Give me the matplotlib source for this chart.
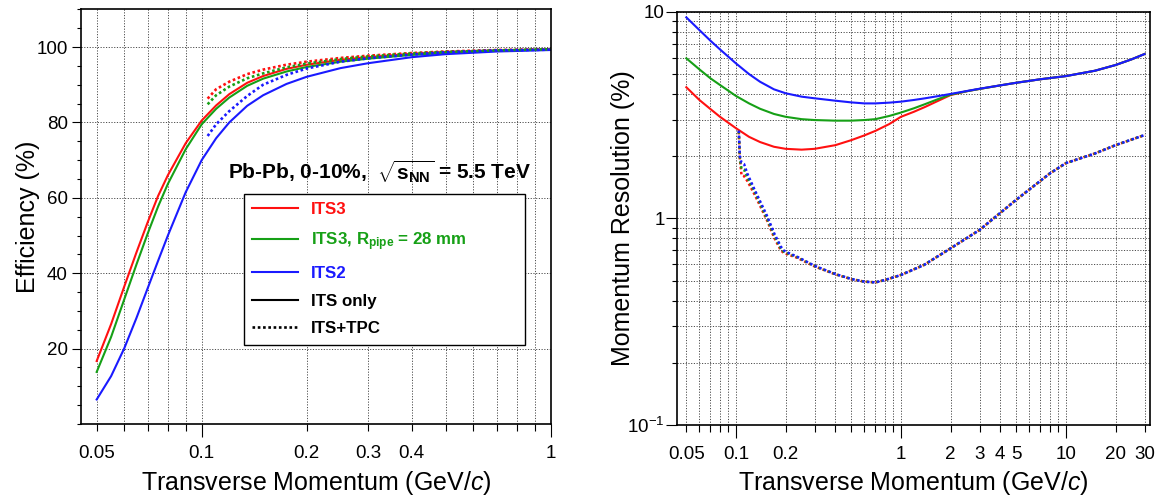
import numpy as np
import matplotlib
matplotlib.use('Agg')
import matplotlib.pyplot as plt
from matplotlib.ticker import MultipleLocator, LogLocator, FixedLocator, FuncFormatter, NullFormatter
from matplotlib.lines import Line2D

plt.rcParams['font.family'] = ['Liberation Sans', 'DejaVu Sans']
plt.rcParams['mathtext.fontset'] = 'custom'
plt.rcParams['mathtext.rm'] = 'Liberation Sans'
plt.rcParams['mathtext.it'] = 'Liberation Sans:italic'
plt.rcParams['mathtext.bf'] = 'Liberation Sans:bold'

# ---------------- data: efficiency (left panel) ----------------
eff_pt = [0.05, 0.055, 0.06, 0.065, 0.07, 0.075, 0.08, 0.09, 0.1, 0.11, 0.12, 0.135,
          0.15, 0.175, 0.2, 0.25, 0.3, 0.4, 0.5, 0.7, 1.0]
eff_its3 = [16.7, 26.5, 36.5, 45.5, 53.5, 60.5, 66.0, 74.5, 80.5, 84.5, 87.5, 90.5,
            92.3, 94.2, 95.3, 96.6, 97.3, 98.2, 98.7, 99.1, 99.4]
eff_its3_rp = [13.8, 23.1, 33.1, 42.3, 50.5, 57.7, 63.7, 72.9, 79.5, 83.6, 86.6, 89.7,
               91.6, 93.5, 94.7, 96.1, 96.9, 97.9, 98.4, 99.0, 99.4]
eff_its2 = [6.5, 12.7, 20.1, 28.1, 36.0, 43.3, 50.0, 61.5, 70.0, 75.8, 80.0, 84.4,
            87.2, 90.2, 92.1, 94.4, 95.7, 97.3, 98.1, 98.8, 99.2]

eff_pt_tpc = [0.104, 0.11, 0.12, 0.135, 0.15, 0.175, 0.2, 0.25, 0.3, 0.4, 0.5, 0.7, 1.0]
eff_its3_tpc = [86.3, 88.8, 90.8, 92.8, 94.0, 95.3, 96.1, 97.1, 97.7, 98.4, 98.8, 99.2, 99.4]
eff_its3_rp_tpc = [84.8, 87.2, 89.5, 91.7, 93.0, 94.6, 95.6, 96.8, 97.5, 98.3, 98.7, 99.1, 99.4]
eff_its2_tpc = [76.4, 79.5, 83.0, 87.0, 90.0, 92.6, 94.3, 96.1, 97.0, 98.0, 98.6, 99.1, 99.3]

# ---------------- data: momentum resolution (right panel) ----------------
res_pt = [0.05, 0.06, 0.07, 0.08, 0.1, 0.12, 0.14, 0.17, 0.2, 0.25, 0.3, 0.4, 0.5, 0.6,
          0.7, 0.85, 1.0, 1.2, 1.4, 1.7, 2.0, 2.5, 3, 4, 5, 7, 10, 15, 20, 25, 30]
res_its2 = [9.39, 8.15, 7.24, 6.57, 5.62, 4.99, 4.58, 4.21, 4.03, 3.88, 3.81, 3.71, 3.64, 3.60,
            3.60, 3.63, 3.67, 3.74, 3.81, 3.91, 4.00, 4.13, 4.24, 4.40, 4.53, 4.71, 4.88,
            5.18, 5.52, 5.88, 6.24]
res_its3_rp = [5.95, 5.26, 4.76, 4.42, 3.91, 3.60, 3.39, 3.20, 3.10, 3.02, 2.99, 2.97, 2.97, 2.99,
               3.02, 3.13, 3.25, 3.41, 3.57, 3.79, 3.97, 4.12, 4.23, 4.40, 4.53, 4.71, 4.88,
               5.18, 5.52, 5.88, 6.24]
res_its3 = [4.31, 3.74, 3.38, 3.10, 2.73, 2.48, 2.34, 2.22, 2.17, 2.15, 2.17, 2.26, 2.39, 2.52,
            2.65, 2.86, 3.10, 3.28, 3.46, 3.72, 3.95, 4.12, 4.23, 4.40, 4.53, 4.71, 4.88,
            5.18, 5.52, 5.88, 6.24]

res_pt_tpc = [0.104, 0.1055, 0.108, 0.112, 0.117, 0.13, 0.14, 0.155, 0.17, 0.187, 0.195, 0.2,
              0.234, 0.3, 0.4, 0.5, 0.6, 0.7, 0.8, 1.0, 1.38, 2, 3, 5, 8, 10, 15, 20, 30]
res_its2_tpc = [2.66, 2.00, 1.86, 1.83, 1.65, 1.37, 1.21, 1.02, 0.85, 0.73, 0.70, 0.69,
                0.653, 0.589, 0.538, 0.509, 0.494, 0.49, 0.503, 0.532, 0.595, 0.716, 0.879,
                1.23, 1.65, 1.85, 2.06, 2.26, 2.53]
res_its3_rp_tpc = [2.64, 1.97, 1.74, 1.72, 1.58, 1.34, 1.18, 0.99, 0.83, 0.715, 0.69, 0.683,
                   0.65, 0.587, 0.537, 0.509, 0.494, 0.49, 0.503, 0.532, 0.595, 0.716, 0.879,
                   1.23, 1.65, 1.85, 2.06, 2.26, 2.53]
res_its3_tpc = [2.62, 1.95, 1.62, 1.60, 1.52, 1.30, 1.15, 0.97, 0.81, 0.70, 0.68, 0.675,
                0.645, 0.585, 0.536, 0.508, 0.494, 0.49, 0.503, 0.532, 0.595, 0.716, 0.879,
                1.23, 1.65, 1.85, 2.06, 2.26, 2.53]

left_x_labels = {0.05: '0.05', 0.1: '0.1', 0.2: '0.2', 0.3: '0.3', 0.4: '0.4', 1.0: '1'}
left_y_ticks = [20, 40, 60, 80, 100]
right_x_labels = {0.05: '0.05', 0.1: '0.1', 0.2: '0.2', 1.0: '1', 2.0: '2', 3.0: '3',
                  4.0: '4', 5.0: '5', 10.0: '10', 20.0: '20', 30.0: '30'}
right_y_labels = {0.1: r'$10^{-1}$', 1.0: '1', 10.0: '10'}

legend_labels = ['ITS3', r'ITS3, R$_{\mathbf{pipe}}$ = 28 mm', 'ITS2', 'ITS only', 'ITS+TPC']

RED = '#ff1010'
GREEN = '#16a016'
BLUE = '#1a1aff'
DOT = (0, (1.0, 1.0))

fig = plt.figure(figsize=(11.63, 5.0), dpi=100)
ax1 = fig.add_axes([0.0694, 0.152, 0.4044, 0.8294])
ax2 = fig.add_axes([0.5824, 0.15, 0.4065, 0.8266])


def label_formatter(table):
    def f(v, pos):
        for k, s in table.items():
            if np.isclose(v, k, rtol=1e-6):
                return s
        return ''
    return FuncFormatter(f)


grid_kw = dict(color='0.3', linewidth=0.7, linestyle=(0, (1.2, 1.6)))

# ---------------- left panel ----------------
ax1.set_xscale('log')
ax1.plot(eff_pt, eff_its3, color=RED, lw=1.5)
ax1.plot(eff_pt, eff_its3_rp, color=GREEN, lw=1.5)
ax1.plot(eff_pt, eff_its2, color=BLUE, lw=1.5)
ax1.plot(eff_pt_tpc, eff_its3_tpc, color=RED, lw=1.9, ls=DOT)
ax1.plot(eff_pt_tpc, eff_its3_rp_tpc, color=GREEN, lw=1.9, ls=DOT)
ax1.plot(eff_pt_tpc, eff_its2_tpc, color=BLUE, lw=1.9, ls=DOT)
ax1.set_xlim(0.045, 1.003)
ax1.set_ylim(0, 110)
ax1.xaxis.set_major_locator(LogLocator(base=10, numticks=10))
ax1.xaxis.set_minor_locator(LogLocator(base=10, subs=np.arange(2, 10), numticks=20))
ax1.xaxis.set_major_formatter(label_formatter(left_x_labels))
ax1.xaxis.set_minor_formatter(label_formatter(left_x_labels))
ax1.yaxis.set_major_locator(FixedLocator(left_y_ticks))
ax1.yaxis.set_minor_locator(MultipleLocator(5))
ax1.grid(True, which='major', axis='both', **grid_kw)
ax1.grid(True, which='minor', axis='x', **grid_kw)
ax1.tick_params(axis='x', which='major', direction='out', length=9.4, width=0.8, pad=5.8, labelsize=13.5)
ax1.tick_params(axis='x', which='minor', direction='out', length=5.0, width=0.8, pad=10.1, labelsize=13.5)
ax1.tick_params(axis='y', which='major', direction='out', length=6.5, width=0.8, pad=2.7, labelsize=13.5)
ax1.tick_params(axis='y', which='minor', direction='out', length=3.0, width=0.8)
ax1.set_xlabel(r'Transverse Momentum (GeV/$c$)', fontsize=18)
ax1.set_ylabel('Efficiency (%)', fontsize=18)
ax1.xaxis.set_label_coords(0.5, -0.108)
ax1.yaxis.set_label_coords(-0.086, 0.5)

ax1.text(0.636, 0.608, r'Pb-Pb, 0-10%,  $\sqrt{\mathbf{s}_{\mathbf{NN}}}$ = 5.5 TeV',
         transform=ax1.transAxes, ha='center', va='center', fontsize=15, fontweight='bold')

handles = [Line2D([], [], color=RED, lw=1.5), Line2D([], [], color=GREEN, lw=1.5),
           Line2D([], [], color=BLUE, lw=1.5), Line2D([], [], color='black', lw=1.5),
           Line2D([], [], color='black', lw=1.9, ls=DOT)]
leg = ax1.legend(handles, legend_labels, loc='upper left',
                 bbox_to_anchor=(0.347, 0.1905, 0.598, 0.3645), mode='expand',
                 prop={'weight': 'bold', 'size': 12.2}, frameon=True, fancybox=False,
                 edgecolor='black', framealpha=1, handlelength=2.7, handletextpad=0.75,
                 labelspacing=0.76, borderpad=0.5, borderaxespad=0)
leg.get_frame().set_linewidth(1.0)
for t, c in zip(leg.get_texts(), [RED, GREEN, BLUE, 'black', 'black']):
    t.set_color(c)

# ---------------- right panel ----------------
ax2.set_xscale('log')
ax2.set_yscale('log')
ax2.plot(res_pt, res_its3, color=RED, lw=1.5)
ax2.plot(res_pt, res_its3_rp, color=GREEN, lw=1.5)
ax2.plot(res_pt, res_its2, color=BLUE, lw=1.5)
ax2.plot(res_pt_tpc, res_its3_tpc, color=RED, lw=1.8, ls=DOT)
ax2.plot(res_pt_tpc, res_its3_rp_tpc, color=GREEN, lw=1.8, ls=DOT)
ax2.plot(res_pt_tpc, res_its2_tpc, color=BLUE, lw=1.8, ls=DOT)
ax2.set_xlim(0.0441, 32.4)
ax2.set_ylim(0.1, 10)
ax2.xaxis.set_major_locator(LogLocator(base=10, numticks=10))
ax2.xaxis.set_minor_locator(LogLocator(base=10, subs=np.arange(2, 10), numticks=30))
ax2.xaxis.set_major_formatter(label_formatter(right_x_labels))
ax2.xaxis.set_minor_formatter(label_formatter(right_x_labels))
ax2.yaxis.set_major_locator(LogLocator(base=10, numticks=10))
ax2.yaxis.set_minor_locator(LogLocator(base=10, subs=np.arange(2, 10), numticks=30))
ax2.yaxis.set_major_formatter(label_formatter(right_y_labels))
ax2.yaxis.set_minor_formatter(NullFormatter())
ax2.grid(True, which='both', axis='both', **grid_kw)
ax2.tick_params(axis='x', which='major', direction='out', length=9.4, width=0.8, pad=5.8, labelsize=13.5)
ax2.tick_params(axis='x', which='minor', direction='out', length=5.0, width=0.8, pad=10.1, labelsize=13.5)
ax2.tick_params(axis='y', which='major', direction='out', length=7.7, width=0.8, pad=1.2, labelsize=13.5)
ax2.tick_params(axis='y', which='minor', direction='out', length=3.4, width=0.8)
ax2.set_xlabel(r'Transverse Momentum (GeV/$c$)', fontsize=18)
ax2.set_ylabel('Momentum Resolution (%)', fontsize=18)
ax2.xaxis.set_label_coords(0.5, -0.1065)
ax2.yaxis.set_label_coords(-0.09, 0.5)

for ax in (ax1, ax2):
    for sp in ax.spines.values():
        sp.set_linewidth(1.2)
    ax.set_axisbelow(True)

fig.savefig('out.png', dpi=100)
